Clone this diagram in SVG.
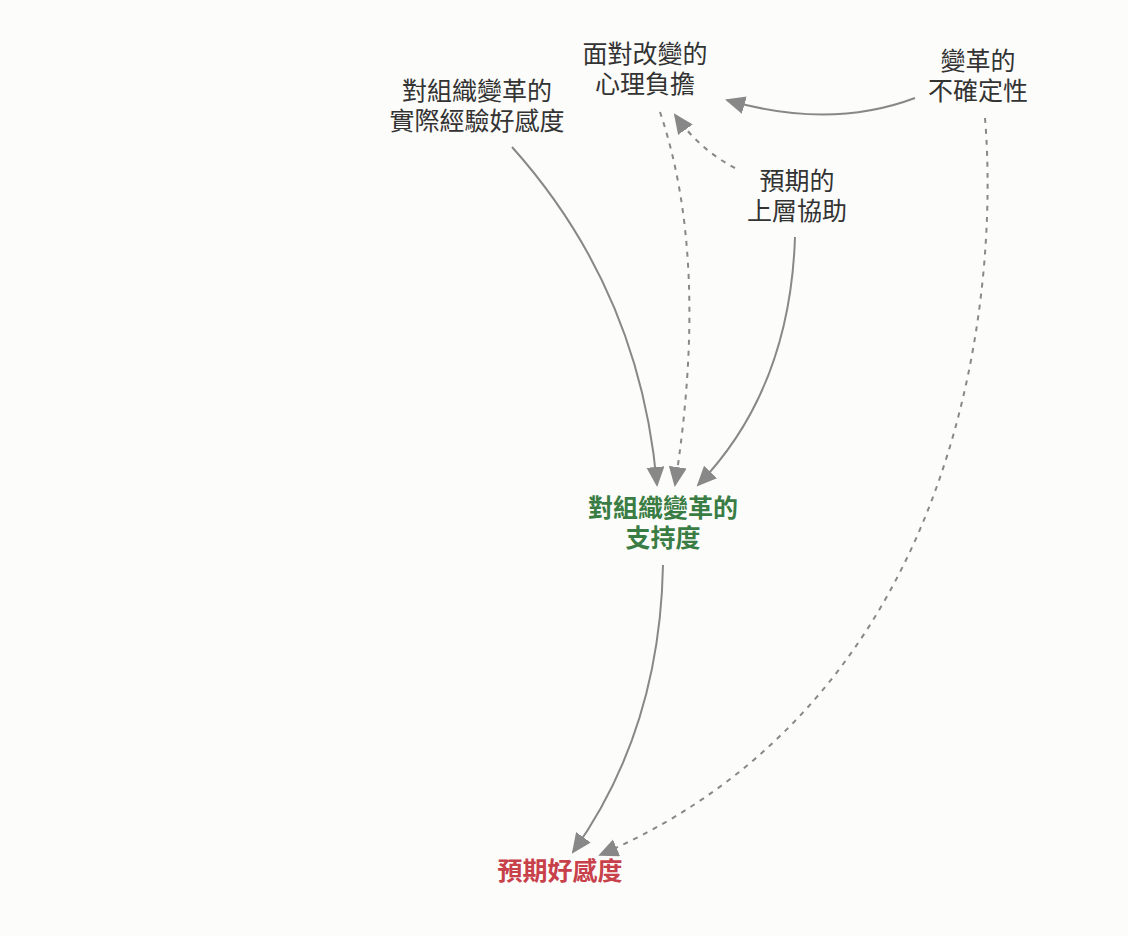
<svg xmlns="http://www.w3.org/2000/svg" width="1128" height="936" viewBox="0 0 1128 936">
<style>
text{font-family:"Noto Sans CJK TC","Noto Sans CJK SC",sans-serif;font-size:25px;fill:#333;text-anchor:middle}
.e{fill:none;stroke:#888;stroke-width:2}
.d{stroke-dasharray:5,6}
.g{fill:#3a7d44;font-weight:bold}
.r{fill:#c8404a;font-weight:bold}
</style>
<defs><marker id="a" markerUnits="userSpaceOnUse" markerWidth="22" markerHeight="20" refX="18" refY="9" orient="auto"><path d="M0,0L20,9L0,18z" fill="#888"/></marker></defs>
<rect width="1128" height="936" fill="#fcfcfa"/>
<g id="connectors">
<path class="e" d="M512,147Q640,290 657,485" marker-end="url(#a)"/>
<path class="e d" d="M660,112Q710,260 675,485" marker-end="url(#a)"/>
<path class="e" d="M795,237Q790,390 698,485" marker-end="url(#a)"/>
<path class="e d" d="M735,168Q700,150 675,115" marker-end="url(#a)"/>
<path class="e" d="M915,98Q830,130 727,100" marker-end="url(#a)"/>
<path class="e d" d="M985,118C1000,300 960,700 600,855" marker-end="url(#a)"/>
<path class="e" d="M663,565Q660,730 573,852" marker-end="url(#a)"/>
</g>
<g id="n1"><text x="477" y="100">對組織變革的</text><text x="477" y="130">實際經驗好感度</text></g>
<g id="n2"><text x="645" y="63">面對改變的</text><text x="645" y="93">心理負擔</text></g>
<g id="n3"><text x="978" y="70">變革的</text><text x="978" y="100">不確定性</text></g>
<g id="n4"><text x="797" y="190">預期的</text><text x="797" y="220">上層協助</text></g>
<g id="n5"><text class="g" x="663" y="517">對組織變革的</text><text class="g" x="663" y="547">支持度</text></g>
<g id="n6"><text class="r" x="560" y="880">預期好感度</text></g>
</svg>
